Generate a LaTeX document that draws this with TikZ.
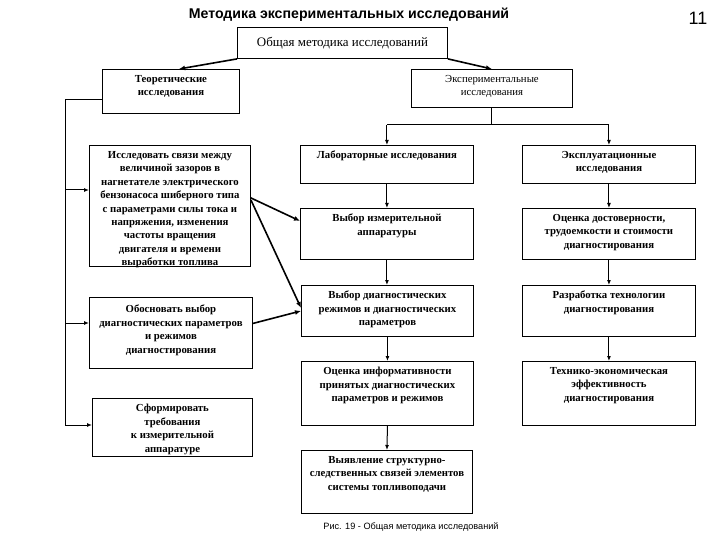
\documentclass[tikz,border=0pt]{standalone}
\usepackage{fontspec}
\setmainfont{Liberation Serif}
\setsansfont{Liberation Sans}
\usetikzlibrary{arrows.meta}
\begin{document}
\begin{tikzpicture}[x=1bp,y=-1bp,
  box/.style={draw, line width=0.9bp, inner sep=0, anchor=north west},
  lbl/.style={anchor=north, align=center, inner sep=0, yshift=-6bp,
    font=\fontsize{10.8}{13.5}\selectfont\bfseries},
  lblr/.style={lbl, font=\fontsize{10.8}{13.5}\selectfont},
  conn/.style={line width=1bp, -{Latex[length=5bp,width=4bp]}},
  tconn/.style={line width=1.6bp, -{Latex[length=6bp,width=5bp]}},
  plain/.style={line width=1bp}]
\fill[white] (0,0) rectangle (720,540);
\useasboundingbox (0,0) rectangle (720,540);
% titles
\node[font=\sffamily\bfseries\fontsize{14.2}{16}\selectfont] (title) at (349,15) {Методика экспериментальных исследований};
\node[font=\sffamily\fontsize{18}{20}\selectfont] (pnum) at (698,18) {11};
\node[font=\sffamily\fontsize{9.2}{11}\selectfont] (cap) at (411,527) {Рис. 19 - Общая методика исследований};
% boxes
\node[box, minimum width=210bp, minimum height=31bp] (top) at (237,27) {};
\node[box, minimum width=137bp, minimum height=44bp] (theor) at (102,69) {};
\node[box, minimum width=161bp, minimum height=38bp] (exp) at (411,69) {};
\node[box, minimum width=161bp, minimum height=121bp] (issl) at (89,145) {};
\node[box, minimum width=163bp, minimum height=71bp] (obosn) at (89,297) {};
\node[box, minimum width=160bp, minimum height=58bp] (sform) at (92,398) {};
\node[box, minimum width=173bp, minimum height=38bp] (lab) at (300,145) {};
\node[box, minimum width=173bp, minimum height=51bp] (vizm) at (300,208) {};
\node[box, minimum width=172bp, minimum height=51bp] (vdiag) at (301,285) {};
\node[box, minimum width=172bp, minimum height=64bp] (ocinf) at (301,361) {};
\node[box, minimum width=171bp, minimum height=63bp] (vyyav) at (301,450) {};
\node[box, minimum width=173bp, minimum height=38bp] (expl) at (522,145) {};
\node[box, minimum width=173bp, minimum height=51bp] (ocdost) at (522,208) {};
\node[box, minimum width=173bp, minimum height=51bp] (razr) at (522,285) {};
\node[box, minimum width=173bp, minimum height=64bp] (tekh) at (522,361) {};
% labels
\node[lblr, font=\fontsize{13}{15}\selectfont, yshift=-4bp] (t-top) at (top.north) {Общая методика исследований};
\node[lbl] (t-theor) at (theor.north) {Теоретические\\исследования};
\node[lblr] (t-exp) at (exp.north) {Экспериментальные\\исследования};
\node[lbl] (t-issl) at (issl.north) {Исследовать связи между\\величиной зазоров в\\нагнетателе электрического\\бензонасоса шиберного типа\\с параметрами силы тока и\\напряжения, изменения\\частоты вращения\\двигателя и времени\\выработки топлива};
\node[lbl, yshift=-2bp] (t-obosn) at (obosn.north) {Обосновать выбор\\диагностических параметров\\и режимов\\диагностирования};
\node[lbl] (t-sform) at (sform.north) {Сформировать\\требования\\к измерительной\\аппаратуре};
\node[lbl] (t-lab) at (lab.north) {Лабораторные исследования};
\node[lbl] (t-vizm) at (vizm.north) {Выбор измерительной\\аппаратуры};
\node[lbl] (t-vdiag) at (vdiag.north) {Выбор диагностических\\режимов и диагностических\\параметров};
\node[lbl] (t-ocinf) at (ocinf.north) {Оценка информативности\\принятых диагностических\\параметров и режимов};
\node[lbl] (t-vyyav) at (vyyav.north) {Выявление структурно-\\следственных связей элементов\\системы топливоподачи};
\node[lbl] (t-expl) at (expl.north) {Эксплуатационные\\исследования};
\node[lbl] (t-ocdost) at (ocdost.north) {Оценка достоверности,\\трудоемкости и стоимости\\диагностирования};
\node[lbl] (t-razr) at (razr.north) {Разработка технологии\\диагностирования};
\node[lbl] (t-tekh) at (tekh.north) {Технико-экономическая\\эффективность\\диагностирования};
% top arrows
\draw[tconn] (top.south west) -- ([xshift=8bp]theor.north);
\draw[tconn] (top.south east) -- (exp.north);
% experimental branch
\coordinate (eb) at (exp.south |- 0,125);
\draw[plain] (exp.south) -- (eb);
\draw[plain] (lab.north |- eb) -- (expl.north |- eb);
\draw[conn] (lab.north |- eb) -- (lab.north);
\draw[conn] (expl.north |- eb) -- (expl.north);
% columns
\draw[conn] (lab.south) -- (vizm.north);
\draw[conn] (vizm.south) -- (vizm.south |- vdiag.north);
\draw[conn] (vdiag.south) -- (ocinf.north);
\draw[conn] (ocinf.south) -- (vyyav.north);
\draw[conn] (expl.south) -- (ocdost.north);
\draw[conn] (ocdost.south) -- (razr.north);
\draw[conn] (razr.south) -- (tekh.north);
% theoretical spine
\coordinate (sp) at (65,100);
\coordinate (b1) at (65,190);
\coordinate (b2) at (65,323);
\coordinate (b3) at (65,425);
\draw[plain] (theor.west |- sp) -- (sp) -- (b3);
\draw[conn] (b1) -- (b1 -| issl.west);
\draw[conn] (b2) -- (b2 -| obosn.west);
\draw[conn] (b3) -- (b3 -| sform.west);
% cross arrows
\draw[tconn] ([yshift=8bp]issl.east) -- ([yshift=13bp]vizm.west);
\draw[tconn] ([yshift=6bp]issl.east) -- ([yshift=3bp]vdiag.west);
\draw[tconn] ([yshift=9.5bp]obosn.east) -- (vdiag.west);
\end{tikzpicture}
\end{document}
